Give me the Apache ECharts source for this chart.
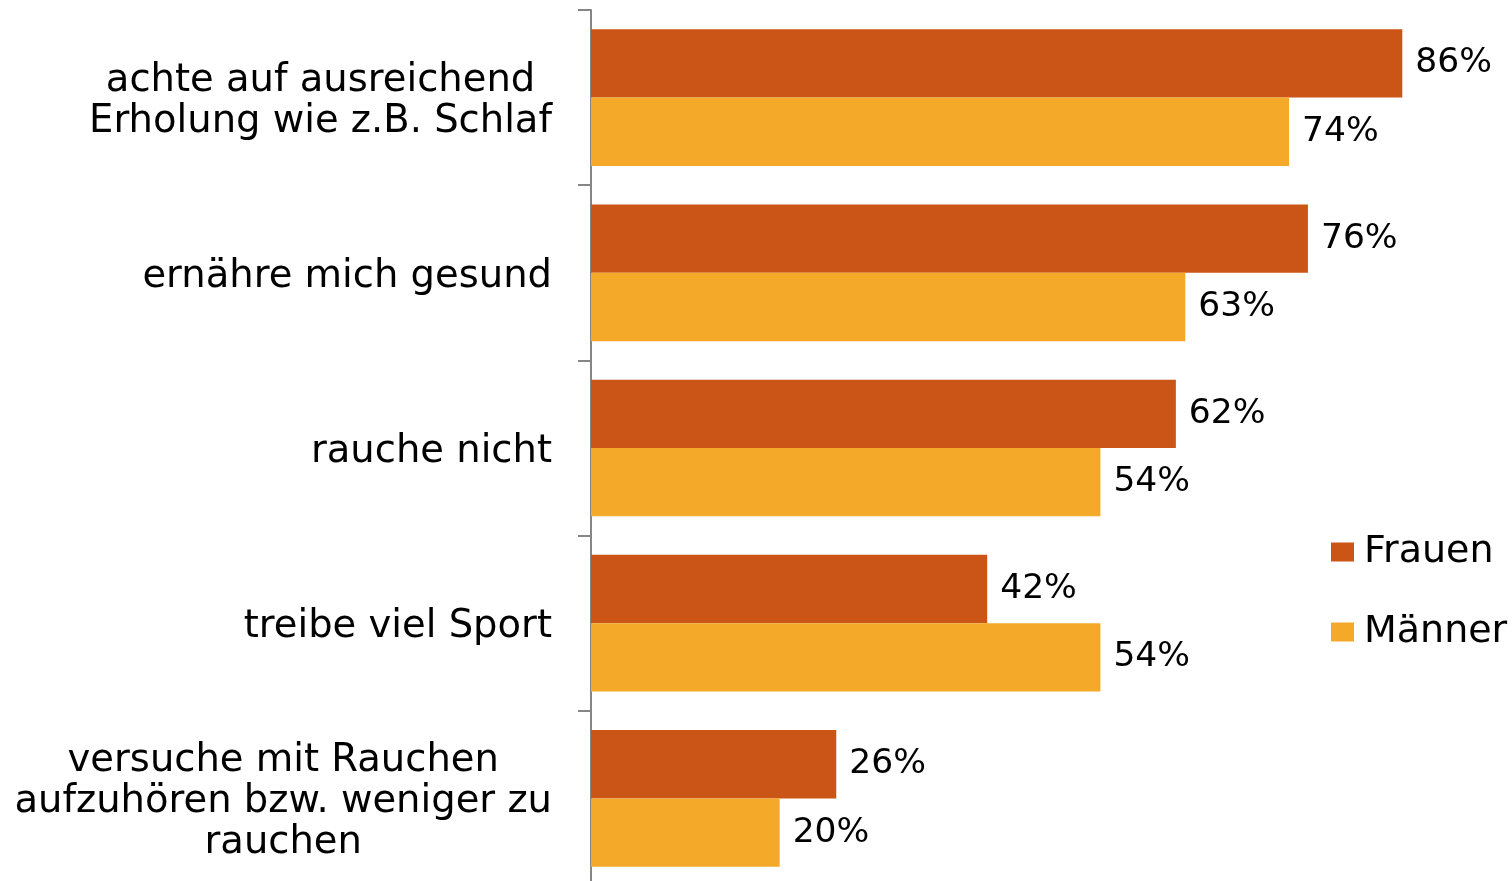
<!DOCTYPE html>
<html>
<head>
<meta charset="utf-8">
<script src="https://cdn.jsdelivr.net/npm/echarts@6/dist/echarts.min.js"></script>
<style>
  html, body { margin: 0; padding: 0; background: #fff; }
  #chart { width: 1512px; height: 881px; }
</style>
</head>
<body>
<div id="chart"></div>
<script>
const categories = [
  'achte auf ausreichend\nErholung wie z.B. Schlaf',
  'ernähre mich gesund',
  'rauche nicht',
  'treibe viel Sport',
  'versuche mit Rauchen\naufzuhören bzw. weniger zu\nrauchen'
];
const frauen = [86, 76, 62, 42, 26];
const maenner = [74, 63, 54, 54, 20];

const font = 'DejaVu Sans';
const chart = echarts.init(document.getElementById('chart'), null, { renderer: 'canvas' });

const barLabel = {
  show: true, position: 'right', distance: 13, formatter: '{c}%',
  fontFamily: font, fontSize: 34.5, color: '#000', padding: [8, 0, 0, 0]
};

chart.setOption({
  animation: false,
  grid: { left: 591, width: 849, top: 10, height: 876, containLabel: false, outerBoundsMode: 'none' },
  legend: {
    orient: 'vertical',
    left: 1326,
    top: 527,
    itemWidth: 23,
    itemHeight: 19,
    itemGap: 40,
    icon: 'rect',
    data: ['Frauen', 'Männer'],
    textStyle: { fontFamily: font, fontSize: 38, color: '#000', lineHeight: 40, padding: [0, 0, 0, 5] }
  },
  xAxis: {
    type: 'value',
    min: 0,
    max: 90,
    show: false
  },
  yAxis: {
    type: 'category',
    inverse: true,
    data: categories,
    axisLine: { show: true, lineStyle: { color: '#868686', width: 2 } },
    axisTick: { show: true, length: 13, lineStyle: { color: '#868686', width: 2 } },
    axisLabel: {
      margin: 39,
      align: 'right',
      padding: [8, 0, 0, 0],
      formatter: v => v.split('\n').map(s => '{c|' + s + '}').join('\n'),
      rich: {
        c: { align: 'center', fontFamily: font, fontSize: 38.5, lineHeight: 41, color: '#000' }
      }
    }
  },
  series: [
    {
      name: 'Frauen',
      type: 'bar',
      data: frauen,
      barGap: '0%',
      barCategoryGap: '22%',
      itemStyle: { color: '#CA5516' },
      label: barLabel
    },
    {
      name: 'Männer',
      type: 'bar',
      data: maenner,
      barGap: '0%',
      barCategoryGap: '22%',
      itemStyle: { color: '#F5A928' },
      label: barLabel
    }
  ]
});
</script>
</body>
</html>
